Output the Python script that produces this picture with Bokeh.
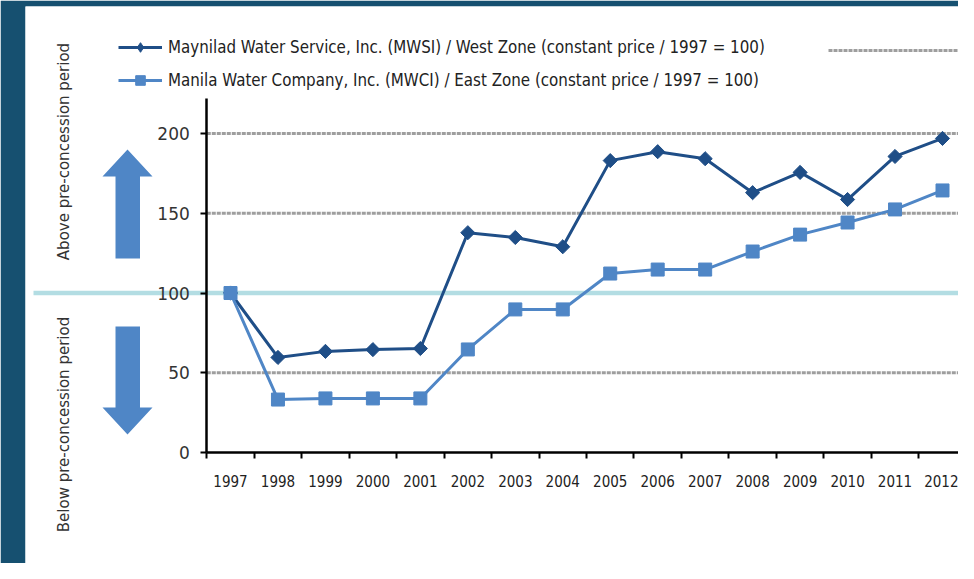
import math
from bokeh.plotting import figure
from bokeh.models import Range1d, FixedTicker, Legend, LegendItem, LinearAxis
from bokeh.embed import file_html
from bokeh.resources import INLINE
from bokeh.core.properties import value

# ---------------- data ----------------
years = list(range(1997, 2013))
mwsi = [100, 59.6, 63.4, 64.5, 65.2, 137.8, 134.8, 129.0, 183.0, 188.6, 184.2, 162.9, 175.6, 158.6, 185.6, 196.9]
mwci = [100, 33.2, 33.9, 33.9, 33.9, 64.6, 89.7, 89.7, 112.2, 114.7, 114.7, 126.0, 136.6, 144.2, 152.4, 164.3]
y_ticks = [0, 50, 100, 150, 200]
grid_levels = [50, 150, 200]
baseline = 100
label_mwsi = "Maynilad Water Service, Inc. (MWSI) / West Zone (constant price / 1997 = 100)"
label_mwci = "Manila Water Company, Inc. (MWCI) / East Zone (constant price / 1997 = 100)"
above_text = "Above pre-concession period"
below_text = "Below pre-concession period"

# ---------------- layout calibration (figure px) ----------------
W, H = 958, 563
FX0, FX1 = 25, W            # frame edges, figure px
FY0, FY1 = 6, H
PX_YEAR = (942 - 230) / 15.0
X_1997 = 230
PX_UNIT = (452 - 133) / 200.0
Y_ZERO = 452

x_start = 1997 - (X_1997 - FX0) / PX_YEAR
x_end = 1997 + (FX1 - X_1997) / PX_YEAR
y_top = (Y_ZERO - FY0) / PX_UNIT
y_bot = (Y_ZERO - FY1) / PX_UNIT

DARK = "#1F4E87"
LIGHT = "#4F86C6"
ARROW = "#4F86C6"
TEAL = "#B3DDE3"
GRID = "#9E9E9E"
TXT = "#333333"
COND = "'DejaVu Sans Condensed', 'Liberation Sans'"

p = figure(width=W, height=H, output_backend="svg", toolbar_location=None,
           x_range=Range1d(x_start, x_end), y_range=Range1d(y_bot, y_top),
           x_axis_location=None, y_axis_location=None, title=None,
           min_border_left=FX0, min_border_right=0, min_border_top=FY0, min_border_bottom=0)
p.border_fill_color = "#165070"
p.background_fill_color = "white"
p.outline_line_color = None
p.xgrid.visible = False
p.ygrid.visible = False
p.extra_x_ranges = {"px": Range1d(FX0, FX1)}
p.extra_y_ranges = {"px": Range1d(FY1, FY0)}

# grid lines (dashed gray)
grid_r = p.segment(x0=[years[0] - 0.5] * len(grid_levels), x1=[years[-1] + 0.5] * len(grid_levels),
                   y0=grid_levels, y1=grid_levels, line_color=GRID, line_width=3, line_dash="4 1")

# baseline 100 (teal)
p.segment(x0=[33], x1=[980], y0=[baseline], y1=[baseline], x_range_name="px",
          line_color=TEAL, line_width=4.5)

# arrows
up_xs = [127, 152, 139.5, 139.5, 115, 115, 102]
up_ys = [149, 176, 176, 258, 258, 176, 176]
dn_xs = [115, 139.5, 139.5, 152, 127, 102, 115]
dn_ys = [326, 326, 407, 407, 434, 407, 407]
p.patches(xs=[up_xs, dn_xs], ys=[up_ys, dn_ys], x_range_name="px", y_range_name="px",
          fill_color=ARROW, line_color=None)

# rotated side texts
p.text(x=[63, 63], y=[151, 424], text=[above_text, below_text], angle=math.pi / 2,
       x_range_name="px", y_range_name="px", text_align="center", text_baseline="middle",
       text_font=value("DejaVu Sans"), text_font_size="15px", text_color=TXT)

# series
l1 = p.line(years, mwsi, line_color=DARK, line_width=3)
s1 = p.scatter(years, mwsi, marker="square", angle=math.pi / 4, size=10,
               fill_color=DARK, line_color=DARK)
# diamond glyph for the legend swatch (its single point sits under the 1997 square)
s1_leg = p.scatter(years[:1], mwsi[:1], marker="diamond", size=10, fill_color=DARK, line_color=DARK)
l2 = p.line(years, mwci, line_color=LIGHT, line_width=3)
s2 = p.scatter(years, mwci, marker="square", size=13, fill_color=LIGHT, line_color=LIGHT)

# axes
xaxis = LinearAxis(fixed_location=0, bounds=(years[0] - 0.5, years[-1] + 0.5),
                   ticker=FixedTicker(ticks=years, minor_ticks=[y - 0.5 for y in years] + [years[-1] + 0.5]))
xaxis.axis_line_color = "black"
xaxis.axis_line_width = 2.5
xaxis.major_tick_line_color = None
xaxis.major_tick_out = 0
xaxis.major_tick_in = 0
xaxis.minor_tick_line_color = "black"
xaxis.minor_tick_line_width = 2
xaxis.minor_tick_out = 6
xaxis.minor_tick_in = 0
xaxis.major_label_standoff = 16
xaxis.major_label_text_font = COND
xaxis.major_label_text_font_size = "15px"
xaxis.major_label_text_color = "#222222"
p.add_layout(xaxis, "below")

yaxis = LinearAxis(fixed_location=years[0] - 0.5, bounds=(0, 222),
                   ticker=FixedTicker(ticks=y_ticks, minor_ticks=[]))
yaxis.axis_line_color = "black"
yaxis.axis_line_width = 2.5
yaxis.major_tick_line_color = "black"
yaxis.major_tick_line_width = 2
yaxis.major_tick_out = 6
yaxis.major_tick_in = 0
yaxis.minor_tick_line_color = None
yaxis.major_label_standoff = 11
yaxis.major_label_text_font = "DejaVu Sans"
yaxis.major_label_text_font_size = "17px"
yaxis.major_label_text_color = TXT
p.add_layout(yaxis, "left")

# legends
leg = Legend(items=[LegendItem(label=label_mwsi, renderers=[l1, s1_leg]),
                    LegendItem(label=label_mwci, renderers=[l2, s2])],
             location=(118 - FX0, FY1 - 92), orientation="vertical",
             glyph_width=44, glyph_height=24, label_height=24, spacing=9,
             padding=0, margin=0, label_standoff=6,
             border_line_color=None, background_fill_alpha=0)
leg.label_text_font = COND
leg.label_text_font_size = "16.8px"
leg.label_text_color = "#222222"
p.add_layout(leg)

leg2 = Legend(items=[LegendItem(label=" ", renderers=[grid_r])],
              location=(828 - FX0, FY1 - 60), glyph_width=138, glyph_height=20, label_height=20,
              padding=0, margin=0, label_standoff=0,
              border_line_color=None, background_fill_alpha=0)
p.add_layout(leg2)

open("out.html", "w").write(file_html(p, INLINE))
